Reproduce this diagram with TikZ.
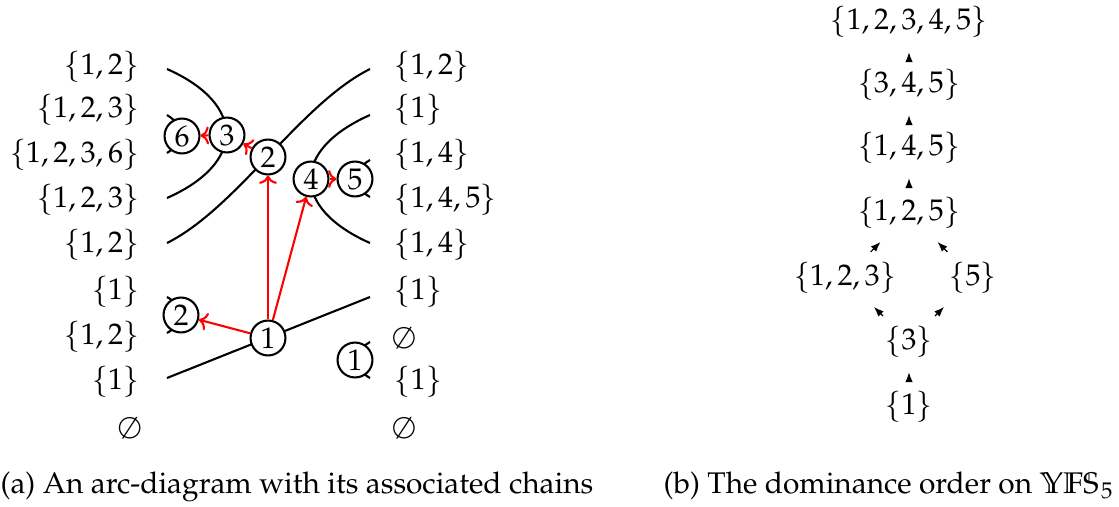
\documentclass[tikz,border=0pt]{standalone}
\usepackage[T1]{fontenc}
\usepackage{mathpazo}
\usetikzlibrary{arrows.meta}

\begin{document}
\begin{tikzpicture}[x=0.335pt, y=-0.335pt,
    chainlabel/.style={inner sep=0pt},
    arcnode/.style={circle, draw=black, fill=white, line width=0.7pt,
                    minimum size=11.7pt, inner sep=0pt},
    strand/.style={line width=0.7pt, draw=black},
    chainarrow/.style={line width=0.7pt, draw=red, -{To[length=2.8pt,width=6pt]}},
    poset/.style={inner sep=0.3333em},
    cover/.style={-{Latex[length=3.3pt,width=2.5pt]}, shorten >=1.4pt}
]
    \useasboundingbox (0,0) rectangle (1119,506);

    % Left chain
    \node[chainlabel, anchor=east] (l0) at (140,67) {$\{1,2\}$};
    \node[chainlabel, anchor=east] (l1) at (140,110) {$\{1,2,3\}$};
    \node[chainlabel, anchor=east] (l2) at (140,155) {$\{1,2,3,6\}$};
    \node[chainlabel, anchor=east] (l3) at (140,200) {$\{1,2,3\}$};
    \node[chainlabel, anchor=east] (l4) at (140,245) {$\{1,2\}$};
    \node[chainlabel, anchor=east] (l5) at (140,292) {$\{1\}$};
    \node[chainlabel, anchor=east] (l6) at (140,337) {$\{1,2\}$};
    \node[chainlabel, anchor=east] (l7) at (140,382) {$\{1\}$};
    \node[chainlabel, anchor=east] (l8) at (142,428) {$\emptyset$};

    % Right chain
    \node[chainlabel, anchor=west] (r0) at (394,67) {$\{1,2\}$};
    \node[chainlabel, anchor=west] (r1) at (394,110) {$\{1\}$};
    \node[chainlabel, anchor=west] (r2) at (394,155) {$\{1,4\}$};
    \node[chainlabel, anchor=west] (r3) at (394,200) {$\{1,4,5\}$};
    \node[chainlabel, anchor=west] (r4) at (394,245) {$\{1,4\}$};
    \node[chainlabel, anchor=west] (r5) at (394,292) {$\{1\}$};
    \node[chainlabel, anchor=west] (r6) at (392,338) {$\emptyset$};
    \node[chainlabel, anchor=west] (r7) at (394,382) {$\{1\}$};
    \node[chainlabel, anchor=west] (r8) at (392,428) {$\emptyset$};

    % Ends of the strands
    \coordinate (s3a) at (167,69);
    \coordinate (s3b) at (167,198);
    \coordinate (s2a) at (167,243);
    \coordinate (s2b) at (370,69);
    \coordinate (s4a) at (370,115);
    \coordinate (s4b) at (370,243);
    \coordinate (s6a) at (167,115);
    \coordinate (s6b) at (167,153);
    \coordinate (s5a) at (370,160);
    \coordinate (s5b) at (370,197);
    \coordinate (t2a) at (167,297);
    \coordinate (t2b) at (167,333);
    \coordinate (t1a) at (370,342);
    \coordinate (t1b) at (370,378);
    \coordinate (t0a) at (167,378);
    \coordinate (t0b) at (370,297);

    % Strands
    \draw[strand] (s3a) .. controls (246,104) and (246,163) .. (s3b);
    \draw[strand] (s2a) .. controls (237,208) and (300,104) .. (s2b);
    \draw[strand] (s4a) .. controls (291,150) and (291,208) .. (s4b);
    \draw[strand] (s6a) .. controls (186,127) and (186,141) .. (s6b);
    \draw[strand] (s5a) .. controls (351,171) and (351,186) .. (s5b);
    \draw[strand] (t2a) .. controls (186,308) and (186,322) .. (t2b);
    \draw[strand] (t1a) .. controls (351,353) and (351,367) .. (t1b);
    \draw[strand] (t0a) -- (t0b);

    % Arcs
    \node[arcnode] (c6) at (182,136) {6};
    \node[arcnode] (c3) at (227,135) {3};
    \node[arcnode] (c2) at (268,157) {2};
    \node[arcnode] (c4) at (311,179) {4};
    \node[arcnode] (c5) at (355,179) {5};
    \node[arcnode] (c2b) at (181,315) {2};
    \node[arcnode] (c1) at (268,338) {1};
    \node[arcnode] (c1b) at (355,360) {1};

    % Chain arrows
    \draw[chainarrow] (c1) -- (c2b);
    \draw[chainarrow] (c1) -- (c2);
    \draw[chainarrow] (c1) -- (c4);
    \draw[chainarrow] (c2) -- (c3);
    \draw[chainarrow] (c3) -- (c6);
    \draw[chainarrow] (c4) -- (c5);

    % Dominance order
    \node[poset] (p12345) at (909,22) {$\{1,2,3,4,5\}$};
    \node[poset] (p345) at (909,85) {$\{3,4,5\}$};
    \node[poset] (p145) at (909,148) {$\{1,4,5\}$};
    \node[poset] (p125) at (909,213) {$\{1,2,5\}$};
    \node[poset] (p123) at (845,278) {$\{1,2,3\}$};
    \node[poset] (p5) at (973,278) {$\{5\}$};
    \node[poset] (p3) at (909,342) {$\{3\}$};
    \node[poset] (p1) at (909,407) {$\{1\}$};

    \draw[cover] (p1) -- (p3);
    \draw[cover] (p3) -- (p123);
    \draw[cover] (p3) -- (p5);
    \draw[cover] (p123) -- (p125);
    \draw[cover] (p5) -- (p125);
    \draw[cover] (p125) -- (p145);
    \draw[cover] (p145) -- (p345);
    \draw[cover] (p345) -- (p12345);

    % Captions
    \node[anchor=base west, inner sep=0pt] (capa) at (0,493)
        {(a) An arc-diagram with its associated chains};
    \node[anchor=base west, inner sep=0pt] (capb) at (663,493)
        {(b) The dominance order on $\mathbb{YFS}_5$};
\end{tikzpicture}
\end{document}
